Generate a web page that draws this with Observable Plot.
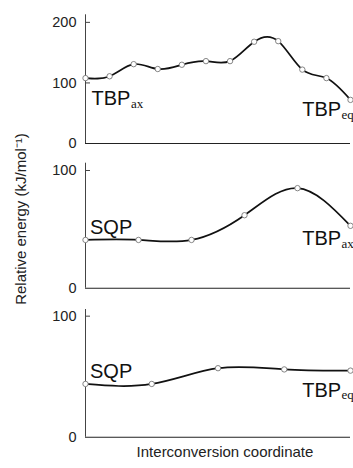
<!DOCTYPE html>
<html><head><meta charset="utf-8">
<script src="https://cdn.jsdelivr.net/npm/d3@7"></script>
<script src="https://cdn.jsdelivr.net/npm/@observablehq/plot@0.6"></script>
<style>
body{margin:0;background:#fff;}
#chart{position:relative;width:353px;height:468px;overflow:hidden;font-family:"Liberation Sans",Arial,sans-serif;color:#222;}
#chart svg{position:absolute;left:0;background:transparent;}
.ylab{position:absolute;left:20px;top:219px;transform:translate(-50%,-50%) rotate(-90deg);white-space:nowrap;font-size:15px;}
.xlab{position:absolute;left:225px;top:443px;transform:translateX(-50%);white-space:nowrap;font-size:15px;}
</style></head><body><div id="chart"></div>
<script>
// ---- data ----
const energy1 = [108, 111, 131, 123, 130, 136, 136, 168, 169, 122, 108, 72];
const energy2 = [41, 41, 41, 62, 85, 53];
const energy3 = [44, 44, 57, 56, 55];
const ticks1 = [0, 100, 200];
const ticks23 = [0, 100];
const startMain = ["TBP", "SQP", "SQP"];
const startSub = ["ax", "", ""];
const endMain = ["TBP", "TBP", "TBP"];
const endSub = ["eq", "ax", "eq"];
const yLabel = "Relative energy (kJ/mol\u207B\u00B9)";
const xLabel = "Interconversion coordinate";

const chart = document.getElementById("chart");
const MAIN_FONT = '"Liberation Sans", Arial, sans-serif';
const SUB_FONT = '"Liberation Serif", "Times New Roman", serif';
const ctx = document.createElement("canvas").getContext("2d");
function textWidth(t, size, fam) { ctx.font = `${size}px ${fam}`; return ctx.measureText(t).width; }

const W = 353, ML = 85, MR = 3, TICK = 5;
const panels = [
  {values: energy1, ticks: ticks1, yMax: 212.5, top: 0, height: 152, mt: 14.3, mb: 9,
   sdx: 6, sdy: 27, edx: -48.3, edy: 16.5},
  {values: energy2, ticks: ticks23, yMax: 106.2, top: 152, height: 147, mt: 10.7, mb: 11.3,
   sdx: 4.5, sdy: -6, edx: -48.3, edy: 19.3},
  {values: energy3, ticks: ticks23, yMax: 105.5, top: 299, height: 169, mt: 10, mb: 31.3,
   sdx: 4.5, sdy: -5.7, edx: -48.3, edy: 26}
];

const MS = 20, SS = 13;
panels.forEach((p, k) => {
  const data = p.values.map((v, i) => ({i, v}));
  const first = [data[0]], last = [data[data.length - 1]];
  const sw = textWidth(startMain[k], MS, MAIN_FONT), ew = textWidth(endMain[k], MS, MAIN_FONT);
  const marks = [
    Plot.ruleX([0], {stroke: "#444", strokeWidth: 1}),
    Plot.ruleY([0], {stroke: "#222", strokeWidth: 1.1}),
    Plot.tickY(p.ticks.filter(t => t > 0), {y: d => d, stroke: "#444", strokeWidth: 1, insetRight: (W - ML - MR) - TICK}),
    Plot.axisY({ticks: p.ticks, tickSize: 0, tickPadding: 9, tickFormat: d => String(d), fontSize: 14.5, label: null}),
    Plot.line(data, {x: "i", y: "v", curve: "natural", stroke: "#111", strokeWidth: 1.7}),
    Plot.dot(data, {x: "i", y: "v", r: 2.7, stroke: "#777", fill: "white", strokeWidth: 0.9}),
    Plot.text(first, {x: "i", y: "v", text: () => startMain[k], textAnchor: "start", fontSize: MS, fontFamily: MAIN_FONT, fill: "#111", dx: p.sdx, dy: p.sdy - 0.32 * MS}),
    Plot.text(last, {x: "i", y: "v", text: () => endMain[k], textAnchor: "start", fontSize: MS, fontFamily: MAIN_FONT, fill: "#111", dx: p.edx, dy: p.edy - 0.32 * MS})
  ];
  if (startSub[k]) marks.push(Plot.text(first, {x: "i", y: "v", text: () => startSub[k], textAnchor: "start", fontSize: SS, fontFamily: SUB_FONT, fill: "#111", dx: p.sdx + sw + 0.5, dy: p.sdy + 2.5 - 0.32 * SS}));
  if (endSub[k]) marks.push(Plot.text(last, {x: "i", y: "v", text: () => endSub[k], textAnchor: "start", fontSize: SS, fontFamily: SUB_FONT, fill: "#111", dx: p.edx + ew + 0.5, dy: p.edy + 2.5 - 0.32 * SS}));
  const svg = Plot.plot({
    width: W, height: p.height,
    marginLeft: ML, marginRight: MR, marginTop: p.mt, marginBottom: p.mb,
    style: {background: "transparent", fontFamily: MAIN_FONT, overflow: "visible", color: "#222"},
    x: {domain: [0, data.length - 1], axis: null},
    y: {domain: [0, p.yMax]},
    marks
  });
  svg.style.top = p.top + "px";
  chart.appendChild(svg);
});

const yl = document.createElement("div"); yl.className = "ylab"; yl.textContent = yLabel; chart.appendChild(yl);
const xl = document.createElement("div"); xl.className = "xlab"; xl.textContent = xLabel; chart.appendChild(xl);
</script>
</body></html>
